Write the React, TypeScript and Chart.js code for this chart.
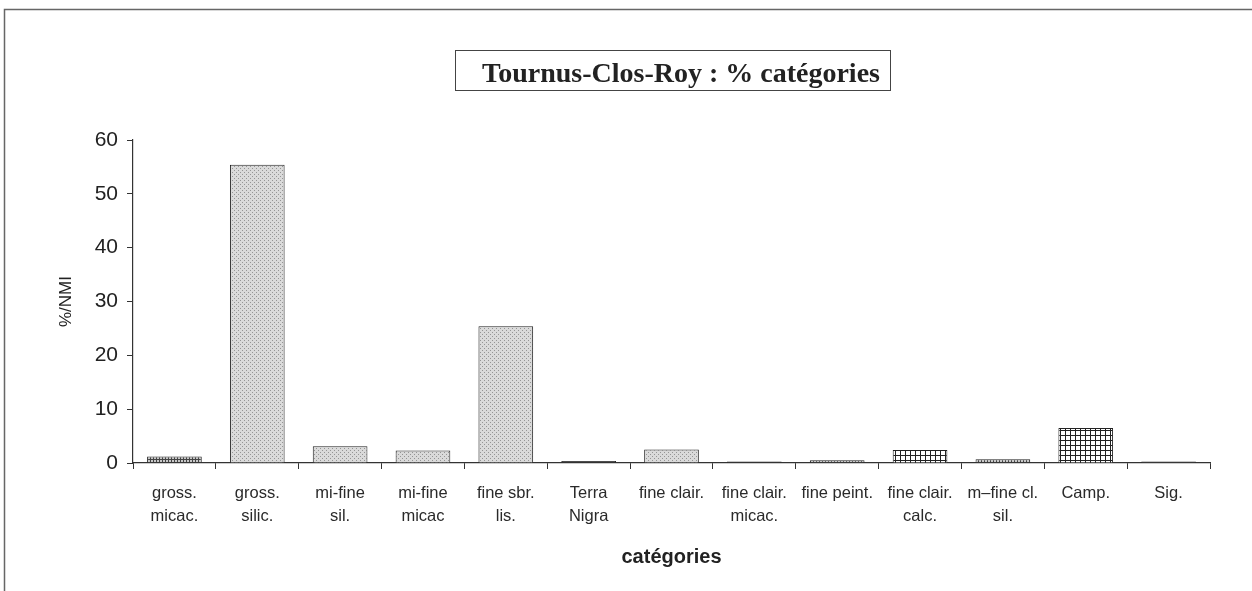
import React, { useEffect, useRef } from "react";
import { Chart, registerables } from "chart.js";
Chart.register(...registerables);

const chartTitle = "Tournus-Clos-Roy : % catégories";
const xAxisTitle = "catégories";
const yAxisTitle = "%/NMI";
const categories: (string | string[])[] = [
  ["gross.", "micac."],
  ["gross.", "silic."],
  ["mi-fine", "sil."],
  ["mi-fine", "micac"],
  ["fine sbr.", "lis."],
  ["Terra", "Nigra"],
  "fine clair.",
  ["fine clair.", "micac."],
  "fine peint.",
  ["fine clair.", "calc."],
  ["m\u2013fine cl.", "sil."],
  "Camp.",
  "Sig.",
];
const values = [1.2, 55.4, 3.1, 2.3, 25.4, 0.35, 2.5, 0.3, 0.5, 2.4, 0.7, 6.5, 0.3];
const yMin = 0;
const yMax = 60;
const yStep = 10;
const barFills = ["dark", "dots", "dots", "dots", "dots", "solid", "dots", "solid", "dark", "grid", "dark", "grid", "dark"];

function makePattern(kind: string): CanvasPattern | string {
  const c = document.createElement("canvas");
  const ctx = c.getContext("2d")!;
  if (kind === "dots") {
    c.width = 4; c.height = 4;
    ctx.fillStyle = "#dadada"; ctx.fillRect(0, 0, 4, 4);
    ctx.fillStyle = "#959595";
    ctx.fillRect(0, 0, 1, 1); ctx.fillRect(2, 2, 1, 1);
  } else if (kind === "dark") {
    c.width = 3; c.height = 3;
    ctx.fillStyle = "#c8c8c8"; ctx.fillRect(0, 0, 3, 3);
    ctx.fillStyle = "#444";
    ctx.fillRect(0, 0, 3, 1); ctx.fillRect(0, 0, 1, 3);
  } else if (kind === "grid") {
    c.width = 5; c.height = 5;
    ctx.fillStyle = "#ffffff"; ctx.fillRect(0, 0, 5, 5);
    ctx.fillStyle = "#222";
    ctx.fillRect(0, 0, 5, 1); ctx.fillRect(0, 0, 1, 5);
  } else {
    return "#333";
  }
  const p = ctx.createPattern(c, "repeat");
  return p || "#ccc";
}

const decorPlugin = {
  id: "decor",
  beforeDraw(chart: any) {
    const ctx = chart.ctx;
    ctx.save();
    ctx.strokeStyle = "#666";
    ctx.lineWidth = 1.5;
    ctx.beginPath();
    ctx.moveTo(4.5, 591);
    ctx.lineTo(4.5, 9.5);
    ctx.lineTo(1252, 9.5);
    ctx.stroke();
    ctx.restore();
  },
  afterDraw(chart: any) {
    const ctx = chart.ctx;
    ctx.save();
    ctx.font = "bold 28px 'Liberation Serif', 'Times New Roman', serif";
    ctx.fillStyle = "#222";
    ctx.textBaseline = "alphabetic";
    ctx.textAlign = "left";
    const w = ctx.measureText(chartTitle).width;
    const cx = 681;
    const tx = cx - w / 2;
    ctx.fillText(chartTitle, tx, 82);
    ctx.strokeStyle = "#444";
    ctx.lineWidth = 1;
    ctx.strokeRect(Math.round(tx - 27) + 0.5, 50.5, Math.round(w + 37), 40);
    ctx.restore();
  },
};

export default function App() {
  const ref = useRef<HTMLCanvasElement>(null);
  useEffect(() => {
    if (!ref.current) return;
    const fills = barFills.map(makePattern);
    const chart = new Chart(ref.current, {
      type: "bar",
      data: {
        labels: categories,
        datasets: [
          {
            data: values,
            backgroundColor: fills as any,
            borderColor: "#222",
            borderWidth: 1,
            barPercentage: 0.66,
            categoryPercentage: 1,
          },
        ],
      },
      options: {
        animation: false,
        responsive: false,
        layout: { padding: { top: 140, right: 42, left: 0, bottom: 0 } },
        plugins: { legend: { display: false }, title: { display: false }, tooltip: { enabled: false } },
        scales: {
          x: {
            offset: true,
            grid: { display: true, drawOnChartArea: false, drawTicks: true, tickLength: 6, color: "#333", offset: true },
            border: { display: true, color: "#333", width: 1.2 },
            ticks: {
              color: "#2a2a2a",
              padding: 12,
              maxRotation: 0,
              autoSkip: false,
              font: { family: "'Liberation Sans', Arial, sans-serif", size: 16.5, lineHeight: 1.45 },
            },
            title: {
              display: true,
              text: xAxisTitle,
              color: "#222",
              font: { family: "'Liberation Sans', Arial, sans-serif", size: 20, weight: "bold" },
              padding: { top: 0, bottom: 22 },
            },
            afterFit: (s: any) => { s.height = 128; },
          },
          y: {
            min: yMin,
            max: yMax,
            grid: { display: true, drawOnChartArea: false, drawTicks: true, tickLength: 6, color: "#333" },
            border: { display: true, color: "#333", width: 1.2 },
            ticks: {
              stepSize: yStep,
              color: "#222",
              padding: 9,
              font: { family: "'Liberation Sans', Arial, sans-serif", size: 21 },
            },
            title: {
              display: true,
              text: yAxisTitle,
              color: "#222",
              font: { family: "'Liberation Sans', Arial, sans-serif", size: 17 },
              padding: { top: 56, bottom: 0 },
            },
            afterFit: (s: any) => { s.width = 133; },
          },
        },
      },
      plugins: [decorPlugin],
    });
    return () => chart.destroy();
  }, []);
  return (
    <div style={{ position: "fixed", left: 0, top: 0, width: 1252, height: 591, background: "#fff" }}>
      <canvas ref={ref} width={1252} height={591} style={{ display: "block" }} />
    </div>
  );
}
